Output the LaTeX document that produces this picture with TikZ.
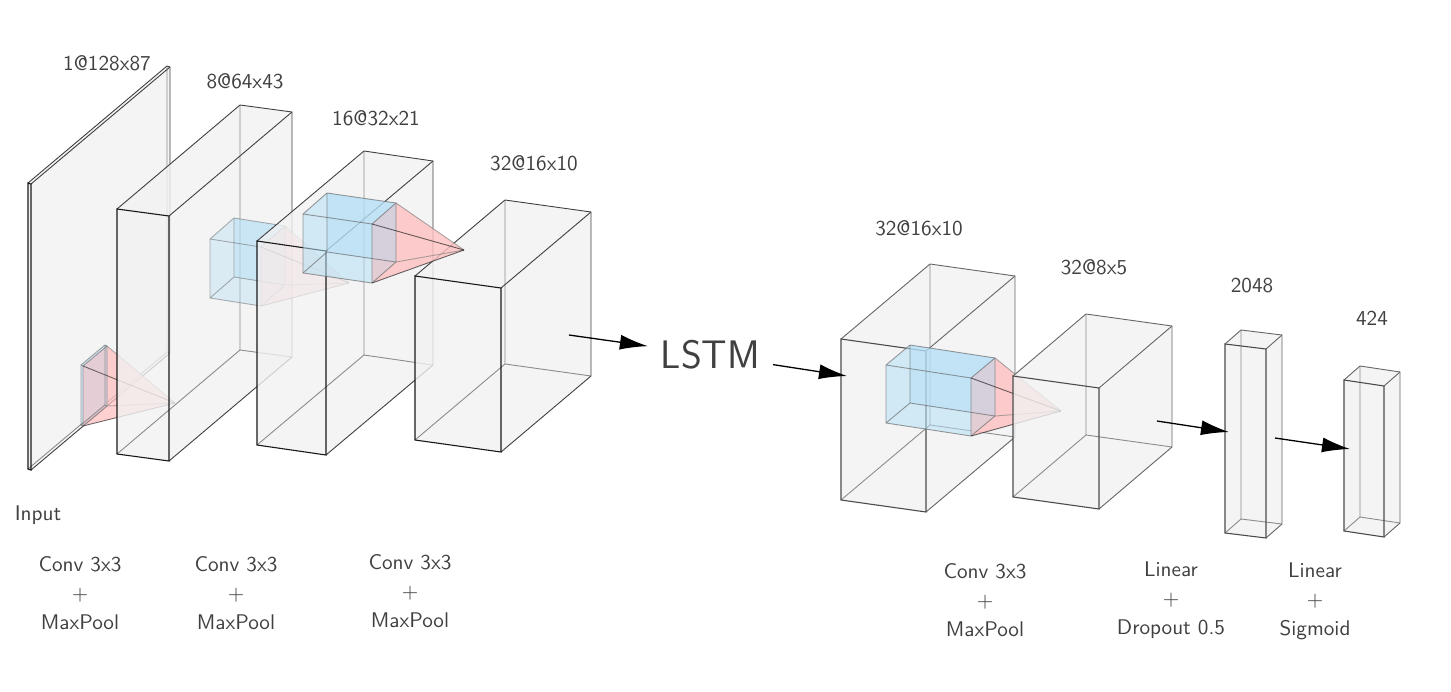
\documentclass[tikz,border=0pt]{standalone}
\usepackage{fontspec}
\setsansfont{Latin Modern Sans}
\usetikzlibrary{arrows.meta}

\definecolor{boxgray}{HTML}{F1F1F1}
\definecolor{kernelblue}{HTML}{B4DFF6}
\definecolor{kernelred}{HTML}{FFC0C0}
\definecolor{labelgray}{HTML}{404040}
\colorlet{edgecol}{black!75}
\colorlet{frontcol}{black!90}

\tikzset{
  boxfill/.style={fill=boxgray,fill opacity=.8},
  boxhidden/.style={draw=gray!90,line width=.45pt},
  boxedge/.style={draw=edgecol,line width=.45pt},
  boxfront/.style={draw=frontcol,line width=.55pt},
  size/.style={text=labelgray,font=\sffamily\fontsize{10.6}{14.5}\selectfont},
  oplabel/.style={size,align=center},
  flow/.style={-{Latex[length=14pt,width=7.5pt]},black,line width=.65pt}
}

% front top left x,y / width / drop / height / back shift x,y
\newcommand{\layerbox}[7]{
  \begin{scope}[shift={(#1,#2)}]
    \coordinate (ftl) at (0,0);
    \coordinate (ftr) at (#3,#4);
    \coordinate (fbr) at (#3,#4+#5);
    \coordinate (fbl) at (0,#5);
    \coordinate (btl) at (#6,#7);
    \coordinate (btr) at (#3+#6,#4+#7);
    \coordinate (bbr) at (#3+#6,#4+#5+#7);
    \coordinate (bbl) at (#6,#5+#7);
    \fill[boxfill] (ftl) -- (btl) -- (btr) -- (bbr) -- (fbr) -- (fbl) -- cycle;
    \draw[boxhidden] (btl) -- (bbl) -- (bbr);
    \draw[boxhidden] (bbl) -- (fbl);
    \draw[boxedge] (ftl) -- (btl) -- (btr) -- (bbr) -- (fbr);
    \draw[boxedge] (ftr) -- (btr);
    \draw[boxfront] (ftl) -- (ftr) -- (fbr) -- (fbl) -- cycle;
  \end{scope}
}

% opacity / same as layerbox / apex (relative)
\newcommand{\kernelbox}[9]{
  \begin{scope}[shift={(#2,#3)}]
    \coordinate (ftl) at (0,0);
    \coordinate (ftr) at (#4,#5);
    \coordinate (fbr) at (#4,#5+#6);
    \coordinate (fbl) at (0,#6);
    \coordinate (btl) at (#7,#8);
    \coordinate (btr) at (#4+#7,#5+#8);
    \coordinate (bbr) at (#4+#7,#5+#6+#8);
    \coordinate (bbl) at (#7,#6+#8);
    \coordinate (apex) at (#9);
    \fill[kernelred,fill opacity=#1+.25] (ftr) -- (btr) -- (apex) -- (fbr) -- cycle;
    \fill[kernelblue,fill opacity=#1] (ftl) -- (btl) -- (btr) -- (bbr) -- (fbr) -- (fbl) -- cycle;
    \fill[kernelblue,fill opacity=#1] (btl) -- (btr) -- (bbr) -- (bbl) -- cycle;
    \fill[kernelred,fill opacity=.35] (ftr) -- (btr) -- (bbr) -- (fbr) -- cycle;
    \begin{scope}[draw opacity=#1+.1,line width=.45pt]
      \draw[draw=black!60] (btl) -- (bbl) -- (bbr) (bbl) -- (fbl);
      \draw[draw=black!60] (ftl) -- (btl) -- (btr) -- (bbr) -- (fbr) -- (fbl) -- cycle;
      \draw[draw=black!60] (ftl) -- (ftr) -- (fbr) (ftr) -- (btr);
      \foreach \corner in {btr,bbr}
        \draw[draw=black!50] (\corner) -- (apex);
      \foreach \corner in {ftr,fbr}
        \draw[draw=black!90] (\corner) -- (apex);
    \end{scope}
  \end{scope}
}

\begin{document}
\begin{tikzpicture}
  [x=.5pt,y=-.5pt]
  \useasboundingbox (0,0) rectangle (1451,691);

  % encoder
  \layerbox{28}{183}{3}{1}{286}{139}{-117}
  \kernelbox{.5}{81}{365}{2}{1}{60}{24}{-20}{94,38}
  \layerbox{117}{209}{52}{7}{245}{123}{-104}
  \kernelbox{.4}{210}{239}{51}{8}{59}{24}{-21}{139,44}
  \layerbox{257}{241}{69}{10}{204}{107}{-90}
  \layerbox{415}{276}{86}{12}{164}{90}{-76}
  \kernelbox{.55}{303}{214}{69}{10}{59}{24}{-21}{161,36}

  % decoder
  \colorlet{edgecol}{black!60}
  \colorlet{frontcol}{black!70}
  \layerbox{841}{339}{85}{12}{161}{89}{-75}
  \kernelbox{.55}{886}{365}{85}{13}{58}{24}{-20}{175,46}
  \layerbox{1013}{376}{86}{12}{121}{73}{-62}
  \layerbox{1225}{344}{41}{5}{189}{16}{-14}
  \layerbox{1344}{380}{40}{6}{151}{16}{-14}

  \node (lstm) at (710.5,355) [inner sep=6.3pt,text=labelgray,font=\sffamily\fontsize{19.9}{20}\selectfont] {LSTM};

  \coordinate (out4) at (569,335);
  \coordinate (in5) at (847,376);
  \coordinate (out6) at (1157,421);
  \coordinate (in7) at (1229,432);
  \coordinate (out7) at (1275,438);
  \coordinate (in8) at (1350,449);

  \foreach \from/\to in {out4/lstm,lstm/in5,out6/in7,out7/in8}
    \draw[flow] (\from) -- (\to);

  \node (s1)[size] at (107,63) {1@128x87};
  \node (s2)[size] at (245,81) {8@64x43};
  \node (s3)[size] at (376,118) {16@32x21};
  \node (s4)[size] at (534,163) {32@16x10};
  \node (s5)[size] at (919,228) {32@16x10};
  \node (s6)[size] at (1094,267) {32@8x5};
  \node (s7)[size] at (1252,286) {2048};
  \node (s8)[size] at (1372,318) {424};

  \node (input)[size] at (38,515) {Input};
  \node (op1)[oplabel] at (80,593) {Conv 3x3\\+\\MaxPool};
  \node (op2)[oplabel] at (236,593) {Conv 3x3\\+\\MaxPool};
  \node (op3)[oplabel] at (410,591) {Conv 3x3\\+\\MaxPool};
  \node (op4)[oplabel] at (985,600) {Conv 3x3\\+\\MaxPool};
  \node (op5)[oplabel] at (1171,600) {Linear\\+\\Dropout 0.5};
  \node (op6)[oplabel] at (1315,601) {Linear\\+\\Sigmoid};

\end{tikzpicture}
\end{document}
